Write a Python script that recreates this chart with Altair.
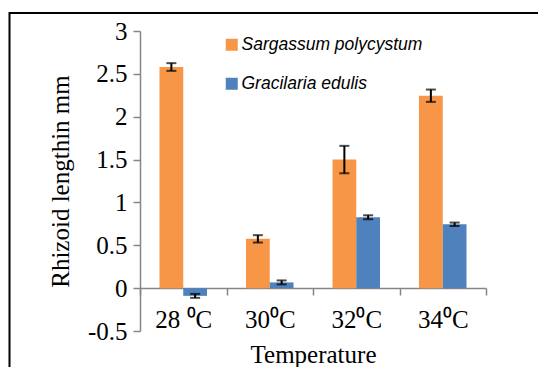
import altair as alt
import pandas as pd

temps = ["28 \u2070C", "30\u2070C", "32\u2070C", "34\u2070C"]
species = ["Sargassum polycystum", "Gracilaria edulis"]
sarg = [2.58, 0.575, 1.50, 2.245]
sarg_err = [0.045, 0.043, 0.16, 0.072]
grac = [-0.09, 0.067, 0.827, 0.745]
grac_err = [0.023, 0.023, 0.023, 0.02]
colors = ["#F79646", "#4F81BD"]
y_ticks = [-0.5, 0, 0.5, 1, 1.5, 2, 2.5, 3]

rows = []
for i, t in enumerate(temps):
    for sp, vals, errs in ((species[0], sarg, sarg_err), (species[1], grac, grac_err)):
        v, e = vals[i], errs[i]
        rows.append({"temp": t, "species": sp, "value": v, "lo": v - e, "hi": v + e})
df = pd.DataFrame(rows)

SERIF = "Liberation Serif"

x_enc = alt.X(
    "temp:N",
    sort=temps,
    scale=alt.Scale(paddingInner=0, paddingOuter=0),
    axis=alt.Axis(
        orient="bottom",
        offset=-43,
        title="Temperature",
        labelAngle=0,
        labelFont=SERIF,
        labelFontSize=25,
        labelColor="black",
        labelPadding=12,
        titleFont=SERIF,
        titleFontSize=25,
        titleFontWeight="normal",
        titleColor="black",
        titlePadding=10,
        domainColor="#868686",
        domainWidth=1.5,
        tickColor="#868686",
        tickWidth=1.5,
        tickSize=7,
        tickBand="extent",
    ),
)
xoff = alt.XOffset(
    "species:N", sort=species, scale=alt.Scale(paddingOuter=0.82, paddingInner=0)
)
y_scale = alt.Scale(domain=[-0.5, 3], nice=False, zero=False)

base = alt.Chart(df)

bars = base.mark_bar().encode(
    x=x_enc,
    xOffset=xoff,
    y=alt.Y(
        "value:Q",
        scale=y_scale,
        axis=alt.Axis(
            values=y_ticks,
            grid=False,
            title="Rhizoid lengthin mm",
            labelExpr="replace(format(datum.value, '~g'), '\u2212', '-')",
            labelFont=SERIF,
            labelFontSize=25,
            labelColor="black",
            labelPadding=6,
            titleFont=SERIF,
            titleFontSize=25,
            titleFontWeight="normal",
            titleColor="black",
            titlePadding=14,
            domainColor="#868686",
            domainWidth=1.5,
            tickColor="#868686",
            tickWidth=1.5,
            tickSize=7,
        ),
    ),
    color=alt.Color(
        "species:N",
        sort=species,
        scale=alt.Scale(domain=species, range=colors),
        legend=alt.Legend(
            title=None,
            orient="none",
            legendX=83,
            legendY=5,
            symbolType="square",
            symbolSize=144,
            symbolStrokeWidth=0,
            symbolOpacity=1,
            labelFont="Liberation Sans",
            labelFontStyle="italic",
            labelFontSize=17.5,
            labelColor="black",
            labelOffset=1,
            labelLimit=400,
            rowPadding=20,
        ),
    ),
)

rules = base.mark_rule(color="black", strokeWidth=2).encode(
    x=alt.X("temp:N", sort=temps), xOffset=xoff, y=alt.Y("lo:Q", scale=y_scale), y2="hi:Q"
)
cap_hi = base.mark_tick(color="black", size=10, thickness=2).encode(
    x=alt.X("temp:N", sort=temps), xOffset=xoff, y=alt.Y("hi:Q", scale=y_scale)
)
cap_lo = base.mark_tick(color="black", size=10, thickness=2).encode(
    x=alt.X("temp:N", sort=temps), xOffset=xoff, y=alt.Y("lo:Q", scale=y_scale)
)

border = alt.Chart(pd.DataFrame({"a": [0]})).mark_rect(
    fill=None, stroke="black", strokeWidth=2
).encode(
    x=alt.value(-130.5), x2=alt.value(420), y=alt.value(-18), y2=alt.value(360)
)

chart = (
    alt.layer(bars, rules, cap_hi, cap_lo, border)
    .properties(
        width=346,
        height=300,
        autosize=alt.AutoSizeParams(type="none"),
        padding={"left": 132, "top": 23, "right": 52, "bottom": 36},
    )
    .configure_view(stroke=None)
)

chart.save("out.html", embed_options={"renderer": "svg", "actions": False})
